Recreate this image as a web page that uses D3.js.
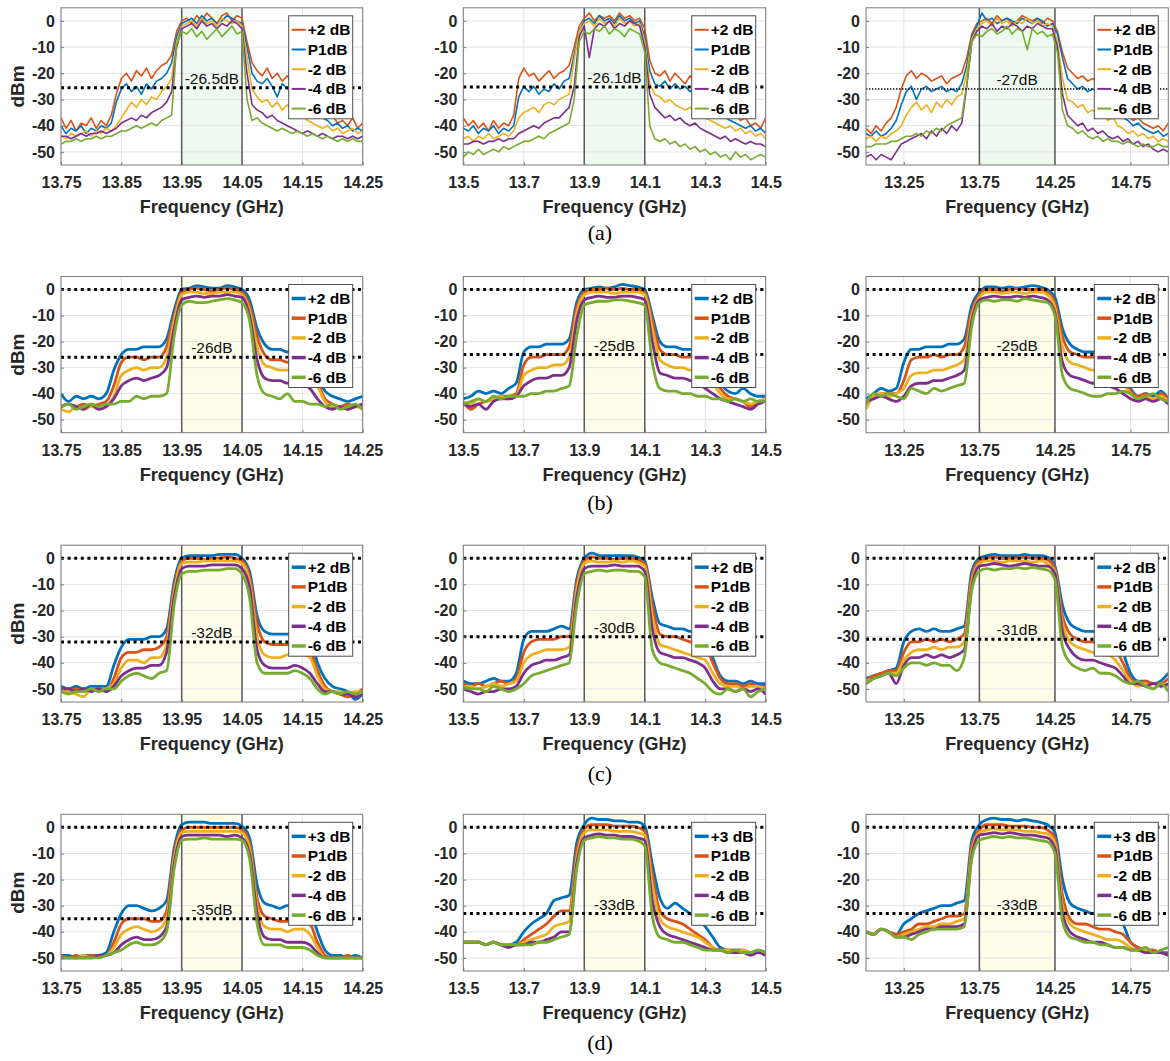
<!DOCTYPE html>
<html>
<head>
<meta charset="utf-8">
<script src="https://cdn.jsdelivr.net/npm/d3@7"></script>
<style>
  body { margin: 0; background: #fff; }
  text { font-family: "Liberation Sans", Arial, sans-serif; }
</style>
</head>
<body>
<script>

// ---- axes / labels ----
var freqDomains = [[13.75, 14.25], [13.5, 14.5], [13, 15]];
var xTicks = [[13.75, 13.85, 13.95, 14.05, 14.15, 14.25], [13.5, 13.7, 13.9, 14.1, 14.3, 14.5], [13.25, 13.75, 14.25, 14.75]];
var xTickLabels = [["13.75", "13.85", "13.95", "14.05", "14.15", "14.25"], ["13.5", "13.7", "13.9", "14.1", "14.3", "14.5"], ["13.25", "13.75", "14.25", "14.75"]];
var yTicks = [0, -10, -20, -30, -40, -50];
var passBands = [[13.95, 14.05], [13.9, 14.1], [13.75, 14.25]];
var rowCaptions = ["(a)", "(b)", "(c)", "(d)"];
var legendAbc = ["+2 dB", "P1dB", "-2 dB", "-4 dB", "-6 dB"];
var legendD = ["+3 dB", "P1dB", "-2 dB", "-4 dB", "-6 dB"];
var levels = [[-25.5, -25.2, -26], [-26, -25, -25], [-32, -30, -31], [-35, -33, -33]];
var levelLabels = [["-26.5dB", "-26.1dB", "-27dB"], ["-26dB", "-25dB", "-25dB"], ["-32dB", "-30dB", "-31dB"], ["-35dB", "-33dB", "-33dB"]];

// ---- row (a): 61 sweep points per trace ----
var a1_s1 = [-37,-41,-38,-42,-39,-40,-37,-41,-38,-40,-36, -28,-22, -20,-23,-19,-21,-18,-22,-19,-17,-16, -13,-4,0, 1,-1,2,0,3,1,-1,2,3,0,2, 1,-8,-16, -19,-21,-18,-22,-20,-23,-21,-24,-22,-25, -27, -30,-33,-35,-37,-36,-39,-38,-40,-37,-41,-39];
var a1_s2 = [-40,-43,-41,-42,-40,-43,-41,-42,-40,-41,-39, -31,-26, -24,-27,-25,-28,-24,-26,-23,-22,-20, -16,-6,-1, 0,1,-1,2,0,1,-1,0,2,1,0, -1,-10,-20, -23,-24,-22,-25,-29,-24,-26,-25,-27,-26, -30, -33,-35,-37,-38,-40,-39,-41,-40,-42,-41,-42];
var a1_s3 = [-44,-45,-43,-44,-43,-42,-44,-42,-43,-41,-42, -40,-37, -34,-31,-33,-30,-32,-29,-30,-27,-25, -22,-8,-2, -1,0,-2,1,-1,0,-2,1,0,-1,0, -2,-14,-26, -29,-31,-30,-33,-31,-34,-32,-35,-34,-36, -38, -39,-40,-41,-40,-42,-41,-43,-42,-41,-43,-42];
var a1_s4 = [-44,-44,-45,-44,-43,-44,-43,-43,-42,-43,-42, -41,-39, -38,-37,-38,-36,-37,-35,-34,-33,-31, -27,-10,-3, -2,-1,-3,0,-2,-1,-3,-1,-2,0,-1, -3,-20,-32, -34,-35,-37,-36,-38,-39,-40,-41,-42,-43, -42, -43,-44,-43,-44,-45,-44,-44,-45,-44,-45,-44];
var a1_s5 = [-47,-46,-46,-45,-46,-45,-45,-44,-45,-44,-44, -43,-42, -42,-41,-40,-41,-40,-39,-40,-38,-37, -36,-9,-4, -5,-3,-6,-4,-7,-5,-3,-6,-4,-2,-5, -4,-30,-38, -37,-39,-40,-41,-42,-41,-42,-43,-42,-43, -44, -43,-44,-45,-44,-45,-46,-45,-46,-45,-46,-46];

var a2_s1 = [-37,-40,-38,-41,-39,-42,-38,-41,-39,-40, -36, -22,-18, -21,-20,-23,-21,-19,-22,-20,-19,-17, -10,-2,1, 3,0,2,1,2,0,3,1,2,0,1, -3,-15,-20, -21,-19,-23,-20,-22,-24,-21,-23,-25,-24, -27, -30,-32,-34,-36,-35,-38,-37,-40,-39,-41,-37];
var a2_s2 = [-41,-42,-40,-43,-41,-42,-40,-43,-41,-42, -40, -29,-25, -27,-25,-28,-26,-27,-24,-26,-23,-22, -13,-4,0, 1,-1,2,0,1,-1,2,0,1,-1,0, -6,-19,-24, -25,-23,-26,-24,-26,-25,-27,-25,-26,-28, -30, -33,-35,-37,-38,-39,-40,-41,-40,-42,-41,-43];
var a2_s3 = [-45,-44,-46,-44,-45,-43,-45,-44,-43,-44, -42, -37,-35, -34,-33,-35,-32,-31,-32,-30,-29,-28, -15,-4,-1, 0,-2,1,-1,0,-2,1,-1,0,-2,-1, -8,-24,-28, -29,-31,-30,-32,-33,-34,-33,-35,-36,-37, -38, -39,-40,-41,-40,-42,-41,-43,-42,-44,-43,-45];
var a2_s4 = [-47,-47,-46,-46,-47,-46,-46,-45,-46,-45, -45, -43,-42, -41,-40,-41,-39,-38,-37,-37,-35,-33, -25,-6,-2, -14,-3,-1,-2,0,-3,-1,-2,0,-1,-2, -10,-28,-33, -35,-37,-36,-38,-37,-39,-40,-39,-41,-42, -43, -44,-45,-44,-46,-45,-46,-47,-46,-47,-47,-48];
var a2_s5 = [-52,-50,-51,-49,-51,-50,-49,-50,-48,-49, -48, -47,-46, -46,-45,-44,-45,-43,-42,-41,-40,-39, -30,-8,-4, -5,-3,-4,-2,-5,-3,-4,-6,-3,-4,-5, -12,-40,-45, -46,-45,-47,-46,-48,-47,-49,-48,-50,-49, -51, -50,-52,-51,-53,-50,-52,-51,-53,-52,-51,-52];

var a3_s1 = [-41,-43,-40,-42,-39,-37, -33,-26,-21, -19,-22,-20,-21,-23,-22,-21,-24,-22,-21,-20, -14,-5,-1, 0,1,-1,2,0,1,-1,0,2,1,0,1,-1,1, 0,-4,-12,-18, -20,-22,-21,-23,-22,-24,-23,-25,-27, -31,-34,-36,-38,-37,-39,-40,-41,-40,-42,-39];
var a3_s2 = [-43,-44,-42,-44,-43,-41, -38,-32,-27, -25,-30,-26,-25,-27,-26,-25,-27,-26,-27,-24, -17,-6,-2, 3,0,1,-1,0,1,0,-1,1,0,-1,1,0,-2, -1,-5,-14,-22, -24,-26,-25,-27,-26,-27,-28,-27,-30, -34,-37,-38,-40,-39,-41,-42,-43,-42,-44,-43];
var a3_s3 = [-45,-44,-46,-44,-45,-43, -42,-40,-36, -33,-31,-34,-32,-35,-31,-33,-30,-32,-29,-28, -20,-7,-3, -1,0,-2,1,-1,0,-2,0,-1,1,-1,0,-2,-1, -2,-8,-22,-30, -31,-33,-32,-35,-34,-36,-35,-38,-37, -40,-41,-43,-42,-44,-43,-45,-44,-46,-45,-46];
var a3_s4 = [-52,-51,-53,-51,-52,-53, -50,-47,-46, -45,-44,-43,-45,-42,-44,-41,-43,-40,-42,-39, -25,-8,-4, -2,-3,-1,-4,-2,-3,-1,-2,-4,-2,-3,-1,-2,-3, -3,-10,-28,-36, -38,-40,-39,-42,-41,-43,-42,-44,-45, -44,-46,-45,-47,-46,-48,-47,-49,-50,-49,-50];
var a3_s5 = [-48,-48,-47,-47,-47,-46, -46,-45,-44, -44,-43,-44,-42,-43,-41,-42,-40,-39,-38,-37, -24,-8,-5, -6,-4,-3,-5,-4,-2,-5,-3,-4,-11,-3,-5,-4,-6, -5,-12,-34,-40, -41,-43,-42,-44,-45,-44,-46,-45,-46, -46,-47,-46,-47,-48,-47,-48,-48,-47,-48,-48];

// ---- rows (b)-(d): 41 sweep points per trace ----
var b1_s1 = [-40,-43,-41,-42,-41,-42,-40,-31,-25,-23,-23,-22,-22,-22,-19,-8,0,0.5,1.5,1,0.5,0.5,1.5,1,0,-4,-15,-21,-23,-23,-24,-23,-23,-25,-32,-39,-41,-42,-43,-42,-41];
var b1_s2 = [-45,-44,-45,-44,-45,-44,-43,-37,-28,-26,-26,-27,-26,-26,-22,-10,-1,0,0.5,0,-0.5,0,0.5,0,-1,-6,-18,-25,-27,-27,-28,-27,-27,-28,-35,-42,-44,-45,-44,-45,-44];
var b1_s3 = [-46,-47,-45,-46,-45,-46,-45,-41,-33,-31,-30,-31,-30,-30,-26,-12,-2,-1,-1,-1.5,-1.5,-1,-1,-1,-2,-8,-22,-29,-30,-31,-31,-30,-30,-31,-37,-43,-45,-45,-46,-45,-46];
var b1_s4 = [-45,-44,-45,-46,-44,-46,-45,-42,-37,-35,-34,-35,-34,-33,-30,-15,-4,-3,-2.5,-3,-2.5,-2.5,-2,-2.5,-3,-10,-27,-34,-35,-35,-36,-35,-36,-38,-42,-45,-46,-45,-46,-45,-44];
var b1_s5 = [-45,-44,-46,-45,-44,-45,-44,-44,-43,-43,-41,-42,-41,-41,-40,-18,-6,-4.5,-5,-5,-4.5,-4,-3.5,-4,-5,-12,-33,-40,-41,-42,-40,-43,-43,-44,-44,-45,-44,-46,-45,-44,-46];

var b2_s1 = [-42,-41,-39,-40,-39,-40,-38,-36,-24,-22,-22,-21,-21,-21,-19,-5,0,0.5,1,0.5,1,2,1.5,1,0,-10,-20,-22,-22,-23,-23,-24,-25,-30,-36,-39,-40,-38,-40,-41,-41];
var b2_s2 = [-43,-46,-44,-43,-42,-41,-41,-40,-29,-26,-26,-25,-25,-25,-22,-7,-1,0,0,0.5,0,0.5,0,0,-1,-12,-23,-25,-25,-26,-26,-26,-27,-33,-38,-41,-42,-43,-45,-43,-42];
var b2_s3 = [-43,-44,-42,-43,-42,-41,-42,-41,-33,-31,-30,-30,-29,-29,-26,-9,-2,-1,-1,-1,-1.5,-1,-1,-1,-2,-15,-27,-29,-30,-30,-31,-31,-32,-36,-40,-42,-42,-43,-44,-43,-42];
var b2_s4 = [-44,-45,-44,-46,-43,-42,-42,-41,-37,-35,-34,-34,-33,-33,-30,-12,-4,-3,-2.5,-3,-3,-2.5,-2.5,-3,-4,-20,-32,-33,-34,-34,-35,-36,-38,-40,-42,-43,-44,-45,-46,-44,-43];
var b2_s5 = [-44,-43,-42,-43,-41,-42,-41,-41,-41,-40,-40,-39,-39,-38,-37,-18,-6,-5,-4.5,-4.5,-4,-4,-4.5,-5,-6,-28,-38,-39,-39,-40,-40,-41,-41,-42,-42,-43,-42,-43,-42,-43,-43];

var b3_s1 = [-42,-40,-38,-39,-38,-28,-23,-23,-22,-22,-22,-21,-21,-19,-6,-1,1,1,0.5,1,0.5,1,1.5,1,0,-3,-15,-21,-23,-24,-24,-25,-25,-27,-32,-38,-41,-40,-41,-39,-42];
var b3_s2 = [-44,-41,-40,-40,-40,-35,-27,-26,-26,-25,-26,-25,-25,-22,-8,-2,0,0,-0.5,0,0.5,0,0,0,-1,-5,-18,-24,-25,-26,-26,-27,-27,-29,-34,-39,-41,-40,-42,-40,-42];
var b3_s3 = [-46,-41,-40,-41,-40,-38,-33,-32,-32,-31,-31,-30,-29,-27,-10,-3,-1,-1,-1.5,-1,-1,-1.5,-1,-1,-2,-7,-22,-28,-29,-30,-31,-31,-32,-33,-36,-40,-42,-41,-42,-41,-43];
var b3_s4 = [-43,-42,-41,-42,-43,-41,-37,-36,-36,-35,-35,-34,-33,-31,-12,-4,-3,-2.5,-3,-3,-2.5,-3,-2.5,-3,-4,-9,-28,-33,-34,-35,-36,-36,-37,-38,-40,-42,-43,-42,-43,-42,-44];
var b3_s5 = [-44,-40,-41,-40,-41,-42,-38,-39,-40,-38,-39,-38,-37,-36,-14,-5,-4,-4.5,-4,-4,-4.5,-3.5,-4,-4.5,-5,-10,-33,-38,-39,-40,-41,-41,-40,-40,-39,-40,-42,-41,-40,-42,-43];

var c1_s1 = [-49,-50,-49,-50,-49,-49,-49,-41,-34,-31,-31,-31,-30,-30,-27,-9,0,1,1,1,1,1.5,1.5,1.5,0,-5,-22,-28,-29,-29,-29,-29,-29,-30,-40,-46,-49,-50,-51,-54,-52];
var c1_s2 = [-50,-51,-50,-51,-50,-50,-51,-46,-38,-36,-36,-35,-35,-34,-30,-11,-1,0,0,-0.5,0,0,0.5,0,-1,-7,-25,-32,-33,-33,-33,-33,-33,-35,-43,-49,-51,-52,-53,-52,-50];
var c1_s3 = [-50,-51,-52,-53,-50,-51,-50,-48,-42,-39,-39,-40,-38,-38,-33,-13,-2,-1.5,-1.5,-1,-1,-1,-1,-1,-2,-9,-30,-37,-38,-38,-37,-37,-37,-38,-45,-50,-51,-51,-52,-51,-51];
var c1_s4 = [-50,-50,-51,-50,-51,-50,-51,-49,-45,-43,-42,-42,-41,-41,-36,-15,-4,-3,-3,-3,-2.5,-2.5,-2.5,-2.5,-4,-11,-35,-41,-42,-42,-42,-41,-42,-44,-48,-51,-51,-52,-52,-53,-52];
var c1_s5 = [-51,-52,-51,-51,-50,-51,-50,-50,-47,-45,-44,-45,-46,-44,-43,-18,-6,-5,-5,-4.5,-4.5,-4.5,-4,-4,-6,-15,-40,-44,-44,-44,-44,-43,-44,-46,-50,-52,-51,-52,-51,-52,-51];

var c2_s1 = [-47,-48,-48,-47,-46,-47,-47,-44,-31,-28,-28,-28,-27,-26,-27,-8,0,2,1,1,1,1,1,0.5,-1,-15,-25,-26,-27,-27,-28,-28,-30,-38,-45,-47,-47,-48,-47,-48,-48];
var c2_s2 = [-48,-49,-48,-49,-48,-47,-48,-46,-36,-32,-31,-31,-31,-30,-30,-10,-1,0.5,0,0,-0.5,0,0,-0.5,-2,-18,-29,-30,-30,-31,-32,-33,-34,-40,-46,-48,-48,-49,-48,-49,-49];
var c2_s3 = [-49,-49,-50,-49,-48,-49,-48,-47,-40,-37,-36,-35,-35,-35,-34,-12,-2,-1,-1.5,-1.5,-1,-1.5,-1,-1.5,-3,-22,-33,-34,-35,-36,-37,-38,-39,-44,-48,-49,-49,-50,-49,-49,-50];
var c2_s4 = [-50,-51,-52,-51,-51,-50,-50,-49,-44,-41,-40,-39,-39,-38,-37,-15,-4,-3,-3,-3,-2.5,-3,-3,-3,-5,-27,-36,-37,-38,-38,-39,-40,-42,-47,-50,-50,-51,-50,-51,-50,-52];
var c2_s5 = [-49,-50,-50,-51,-49,-50,-51,-50,-48,-45,-44,-43,-42,-41,-40,-18,-6,-5,-4.5,-5,-4.5,-4.5,-5,-5,-7,-35,-40,-41,-42,-43,-44,-46,-48,-51,-52,-50,-51,-50,-53,-51,-50];

var c3_s1 = [-46,-45,-44,-43,-42,-32,-28,-27,-28,-27,-28,-28,-27,-26,-5,0,1,1.5,1,1,1,1.5,1,1,0.5,-3,-18,-25,-27,-28,-28,-29,-29,-30,-36,-44,-47,-47,-48,-47,-44];
var c3_s2 = [-47,-45,-44,-43,-43,-36,-32,-32,-31,-32,-31,-32,-31,-29,-7,-1,0,0.5,0,0,0,0.5,0,0,-0.5,-4,-22,-29,-31,-32,-32,-33,-33,-35,-40,-46,-48,-47,-48,-48,-46];
var c3_s3 = [-47,-46,-45,-44,-44,-39,-36,-35,-35,-34,-35,-34,-34,-32,-9,-2,-1,-1,-1.5,-1,-1,-1,-1.5,-1,-2,-5,-25,-32,-34,-35,-36,-37,-37,-39,-43,-47,-49,-48,-50,-48,-49];
var c3_s4 = [-48,-46,-45,-44,-48,-41,-38,-38,-37,-38,-37,-38,-37,-35,-11,-3,-2.5,-2,-2.5,-3,-2.5,-2,-2.5,-3,-3,-6,-28,-35,-38,-39,-39,-40,-41,-42,-45,-48,-48,-49,-48,-49,-48];
var c3_s5 = [-48,-46,-45,-44,-45,-42,-40,-40,-41,-40,-41,-41,-43,-38,-12,-5,-4,-4.5,-4,-4,-3.5,-4,-3.5,-4,-4.5,-8,-34,-40,-42,-43,-42,-44,-44,-45,-47,-48,-47,-49,-50,-48,-51];

var d1_s1 = [-49,-49,-50,-49,-49,-49,-48,-40,-33,-30,-30,-31,-32,-31,-28,-8,1,2,2,2,1.5,1.5,1.5,1.5,0.5,-4,-22,-29,-30,-31,-30,-30,-31,-32,-40,-47,-49,-49,-50,-49,-50];
var d1_s2 = [-49,-50,-49,-50,-49,-49,-49,-44,-37,-35,-35,-35,-36,-36,-32,-10,-1,0,0,0,0,0,0,0,-1,-6,-27,-34,-35,-36,-36,-35,-36,-37,-44,-49,-50,-50,-49,-50,-50];
var d1_s3 = [-50,-50,-50,-49,-50,-49,-49,-46,-41,-39,-38,-39,-40,-39,-35,-12,-2,-1.5,-1.5,-1.5,-1.5,-1.5,-1.5,-1.5,-2,-8,-30,-38,-39,-39,-40,-39,-39,-41,-46,-50,-50,-50,-50,-50,-50];
var d1_s4 = [-50,-50,-50,-50,-50,-49,-49,-48,-45,-43,-42,-43,-43,-42,-38,-14,-3.5,-3,-3,-3,-3,-3,-3.5,-3,-4,-10,-33,-42,-43,-43,-44,-44,-44,-45,-48,-50,-50,-50,-50,-50,-50];
var d1_s5 = [-50,-50,-50,-50,-50,-50,-49,-48,-47,-45,-44,-45,-45,-44,-40,-16,-5,-4.5,-4.5,-4,-4.5,-4.5,-4.5,-4.5,-5,-12,-37,-45,-45,-45,-46,-46,-46,-47,-49,-50,-50,-50,-50,-50,-50];

var d2_s1 = [-44,-44,-44,-45,-44,-45,-45,-44,-40,-37,-35,-33,-28,-27,-26,-6,1,3.5,3,3,2.5,2.5,2,2,0.5,-14,-27,-31,-29,-31,-33,-35,-38,-42,-46,-47,-47,-47,-48,-47,-48];
var d2_s2 = [-44,-44,-44,-45,-44,-45,-45,-45,-43,-41,-39,-37,-34,-32,-32,-9,-0.5,1,1,1,0.5,0.5,0.5,0,-1.5,-18,-32,-35,-36,-37,-39,-41,-43,-46,-47,-47,-47,-47,-48,-48,-48];
var d2_s3 = [-44,-44,-44,-45,-44,-45,-45,-45,-44,-43,-42,-41,-38,-37,-36,-12,-2,-1,-1,-1,-1.5,-1.5,-1.5,-2,-3,-22,-35,-38,-39,-40,-41,-42,-44,-46,-47,-47,-48,-47,-48,-48,-48];
var d2_s4 = [-44,-44,-44,-45,-44,-45,-46,-45,-45,-44,-44,-43,-42,-40,-40,-14,-4,-3,-2.5,-3,-3,-3.5,-3.5,-4,-5,-28,-38,-41,-42,-43,-44,-45,-46,-47,-47,-48,-48,-48,-49,-48,-49];
var d2_s5 = [-44,-44,-44,-45,-44,-45,-45,-45,-45,-45,-44,-44,-43,-42,-41,-16,-5,-4,-3.5,-4,-4,-4.5,-4.5,-5,-7,-34,-42,-43,-44,-44,-45,-46,-47,-47,-47,-48,-47,-48,-48,-47,-48];

var d3_s1 = [-40,-41,-39,-40,-41,-37,-35,-33,-32,-31,-30,-30,-29,-28,-5,1,3,3.5,3,3,2.5,3,2.5,2,1,-2,-20,-29,-31,-32,-33,-33,-34,-35,-37,-44,-46,-47,-47,-48,-48];
var d3_s2 = [-40,-41,-39,-40,-41,-40,-39,-37,-37,-36,-35,-34,-34,-33,-7,-1,1,1,1,0.5,0.5,0.5,0,0,-1,-4,-26,-35,-37,-37,-38,-39,-39,-40,-41,-44,-46,-47,-47,-48,-49];
var d3_s3 = [-40,-41,-39,-40,-42,-41,-40,-39,-38,-38,-37,-37,-36,-35,-9,-2,-1,-0.5,-1,-1,-1,-1.5,-1.5,-2,-2.5,-6,-30,-37,-39,-40,-41,-42,-43,-43,-44,-46,-47,-47,-48,-48,-49];
var d3_s4 = [-40,-41,-39,-40,-42,-42,-41,-40,-39,-39,-38,-38,-38,-37,-11,-3,-2.5,-2,-2.5,-2,-2.5,-3,-3,-3.5,-4,-8,-33,-40,-42,-43,-44,-44,-45,-46,-46,-47,-47,-48,-48,-48,-49];
var d3_s5 = [-40,-41,-39,-40,-42,-42,-43,-41,-40,-39,-39,-39,-39,-38,-12,-5,-4,-3.5,-4,-3.5,-4,-4,-4.5,-5,-5.5,-10,-36,-42,-43,-44,-44,-45,-45,-46,-46,-47,-47,-46,-48,-47,-46];

// table the drawing code walks through: panels[row][col] = list of traces
var panels = [
    [[a1_s1, a1_s2, a1_s3, a1_s4, a1_s5], [a2_s1, a2_s2, a2_s3, a2_s4, a2_s5], [a3_s1, a3_s2, a3_s3, a3_s4, a3_s5]],
    [[b1_s1, b1_s2, b1_s3, b1_s4, b1_s5], [b2_s1, b2_s2, b2_s3, b2_s4, b2_s5], [b3_s1, b3_s2, b3_s3, b3_s4, b3_s5]],
    [[c1_s1, c1_s2, c1_s3, c1_s4, c1_s5], [c2_s1, c2_s2, c2_s3, c2_s4, c2_s5], [c3_s1, c3_s2, c3_s3, c3_s4, c3_s5]],
    [[d1_s1, d1_s2, d1_s3, d1_s4, d1_s5], [d2_s1, d2_s2, d2_s3, d2_s4, d2_s5], [d3_s1, d3_s2, d3_s3, d3_s4, d3_s5]]
];

// ---- layout ----
var width = 1170, height = 1061;
var colX = [[61, 362.7], [463.3, 765.7], [866, 1168.3]];
var rowY = [[7.8, 165], [276.5, 432.7], [545.2, 702], [814.3, 971]];
var captionY = [240, 510, 781, 1050];

var orange = "#D95319", blue = "#0072BD", yellow = "#EDB120", purple = "#7E2F8E", green = "#77AC30";
var colorsA = [orange, blue, yellow, purple, green];
var colorsB = [blue, orange, yellow, purple, green];

var svg = d3.select("body").append("svg")
    .attr("width", width)
    .attr("height", height);

for (var r = 0; r < 4; r++) {
    for (var c = 0; c < 3; c++) {
        drawPanel(r, c);
    }
    svg.append("text")
        .attr("x", 600)
        .attr("y", captionY[r])
        .attr("text-anchor", "middle")
        .style("font-family", "'Liberation Serif', 'Times New Roman', serif")
        .style("font-size", "22px")
        .text(rowCaptions[r]);
}

function drawPanel(r, c) {
    var traces = panels[r][c];
    var dom = freqDomains[c];
    var n = traces[0].length;
    // sweep grid of the analyser: n equally spaced points across the span
    var freq = d3.range(n).map(function (i) { return dom[0] + i * (dom[1] - dom[0]) / (n - 1); });

    var x = d3.scaleLinear().domain(dom).range(colX[c]);
    var y = d3.scaleLinear().domain([-55, 5]).range([rowY[r][1], rowY[r][0]]);
    var x0 = colX[c][0], x1 = colX[c][1], y0 = rowY[r][0], y1 = rowY[r][1];

    var g = svg.append("g");
    var clipId = "clip" + r + c;
    g.append("clipPath").attr("id", clipId)
        .append("rect")
        .attr("x", x0).attr("y", y0)
        .attr("width", x1 - x0).attr("height", y1 - y0);

    // pass band shading
    var pb = passBands[c];
    g.append("rect")
        .attr("x", x(pb[0])).attr("y", y0)
        .attr("width", x(pb[1]) - x(pb[0])).attr("height", y1 - y0)
        .attr("fill", r === 0 ? "#eefaef" : "#fdfde9");

    // grid
    g.selectAll(".gx").data(xTicks[c]).enter().append("line")
        .attr("x1", function (d) { return x(d); }).attr("x2", function (d) { return x(d); })
        .attr("y1", y0).attr("y2", y1)
        .attr("stroke", "#e3e3e3").attr("stroke-width", 1);
    g.selectAll(".gy").data(yTicks).enter().append("line")
        .attr("x1", x0).attr("x2", x1)
        .attr("y1", function (d) { return y(d); }).attr("y2", function (d) { return y(d); })
        .attr("stroke", "#e3e3e3").attr("stroke-width", 1);

    // pass band edges
    g.selectAll(".pb").data(pb).enter().append("line")
        .attr("x1", function (d) { return x(d); }).attr("x2", function (d) { return x(d); })
        .attr("y1", y0).attr("y2", y1)
        .attr("stroke", "#5a5a5a").attr("stroke-width", 1.5);

    // traces
    var line = d3.line()
        .x(function (d, i) { return x(freq[i]); })
        .y(function (d) { return y(d); })
        .curve(r === 0 ? d3.curveLinear : d3.curveMonotoneX);
    var colors = r === 0 ? colorsA : colorsB;
    g.append("g").attr("clip-path", "url(#" + clipId + ")")
        .selectAll("path").data(traces).enter().append("path")
        .attr("d", line)
        .attr("fill", "none")
        .attr("stroke", function (d, i) { return colors[i]; })
        .attr("stroke-width", r === 0 ? 1.6 : 2.8)
        .attr("stroke-linejoin", "round");

    // dotted reference lines
    var thin = (r === 0 && c === 2);
    var refs = r === 0 ? [levels[r][c]] : [0, levels[r][c]];
    g.selectAll(".ref").data(refs).enter().append("line")
        .attr("x1", x0).attr("x2", x1)
        .attr("y1", function (d) { return y(d); }).attr("y2", function (d) { return y(d); })
        .attr("stroke", "#000")
        .attr("stroke-width", thin ? 1.4 : 3)
        .attr("stroke-dasharray", thin ? "1.4,1.6" : "3,3.6");

    g.append("text")
        .attr("x", x((pb[0] + pb[1]) / 2))
        .attr("y", y(levels[r][c]) - 4)
        .attr("text-anchor", "middle")
        .style("font-size", "15.5px")
        .attr("fill", "#111")
        .text(levelLabels[r][c]);

    // box
    g.append("rect")
        .attr("x", x0).attr("y", y0)
        .attr("width", x1 - x0).attr("height", y1 - y0)
        .attr("fill", "none").attr("stroke", "#7a7a7a").attr("stroke-width", 1);

    // axes
    var xAxis = d3.axisBottom(x)
        .tickValues(xTicks[c])
        .tickFormat(function (d, i) { return xTickLabels[c][i]; })
        .tickSizeInner(-3).tickSizeOuter(0).tickPadding(12);
    var yAxis = d3.axisLeft(y)
        .tickValues(yTicks)
        .tickFormat(function (d) { return d; })
        .tickSizeInner(-3).tickSizeOuter(0).tickPadding(6);

    var gx = g.append("g").attr("transform", "translate(0," + y1 + ")").call(xAxis);
    var gy = g.append("g").attr("transform", "translate(" + x0 + ",0)").call(yAxis);
    [gx, gy].forEach(function (a) {
        a.select(".domain").remove();
        a.selectAll(".tick line").attr("stroke", "#7a7a7a");
        a.selectAll("text")
            .attr("fill", "#262626")
            .style("font-family", "'Liberation Sans', Arial, sans-serif")
            .style("font-size", "16px")
            .style("font-weight", "bold");
    });

    g.append("text")
        .attr("x", (x0 + x1) / 2)
        .attr("y", y1 + 48)
        .attr("text-anchor", "middle")
        .attr("fill", "#262626")
        .style("font-size", "18px")
        .style("font-weight", "bold")
        .text("Frequency (GHz)");

    if (c === 0) {
        g.append("text")
            .attr("transform", "translate(17," + ((y0 + y1) / 2) + ") rotate(-90)")
            .attr("dy", "0.35em")
            .attr("text-anchor", "middle")
            .attr("fill", "#262626")
            .style("font-size", "19px")
            .style("font-weight", "bold")
            .text("dBm");
    }

    // legend
    var names = r === 3 ? legendD : legendAbc;
    var lw = 64, lh = 103;
    var lx = x1 - 10 - lw, ly = y0 + 8;
    var leg = g.append("g").attr("transform", "translate(" + lx + "," + ly + ")");
    leg.append("rect")
        .attr("width", lw).attr("height", lh)
        .attr("fill", "#fff").attr("stroke", "#4d4d4d").attr("stroke-width", 1);
    var item = leg.selectAll(".item").data(names).enter().append("g")
        .attr("transform", function (d, i) { return "translate(0," + (14 + i * 19.7) + ")"; });
    item.append("line")
        .attr("x1", 3).attr("x2", 17)
        .attr("stroke", function (d, i) { return colors[i]; })
        .attr("stroke-width", r === 0 ? 2 : 3.5);
    item.append("text")
        .attr("x", 19)
        .attr("dy", "0.35em")
        .attr("fill", "#000")
        .style("font-size", "15.5px")
        .style("font-weight", "bold")
        .text(function (d) { return d; });
}
</script>
</body>
</html>
